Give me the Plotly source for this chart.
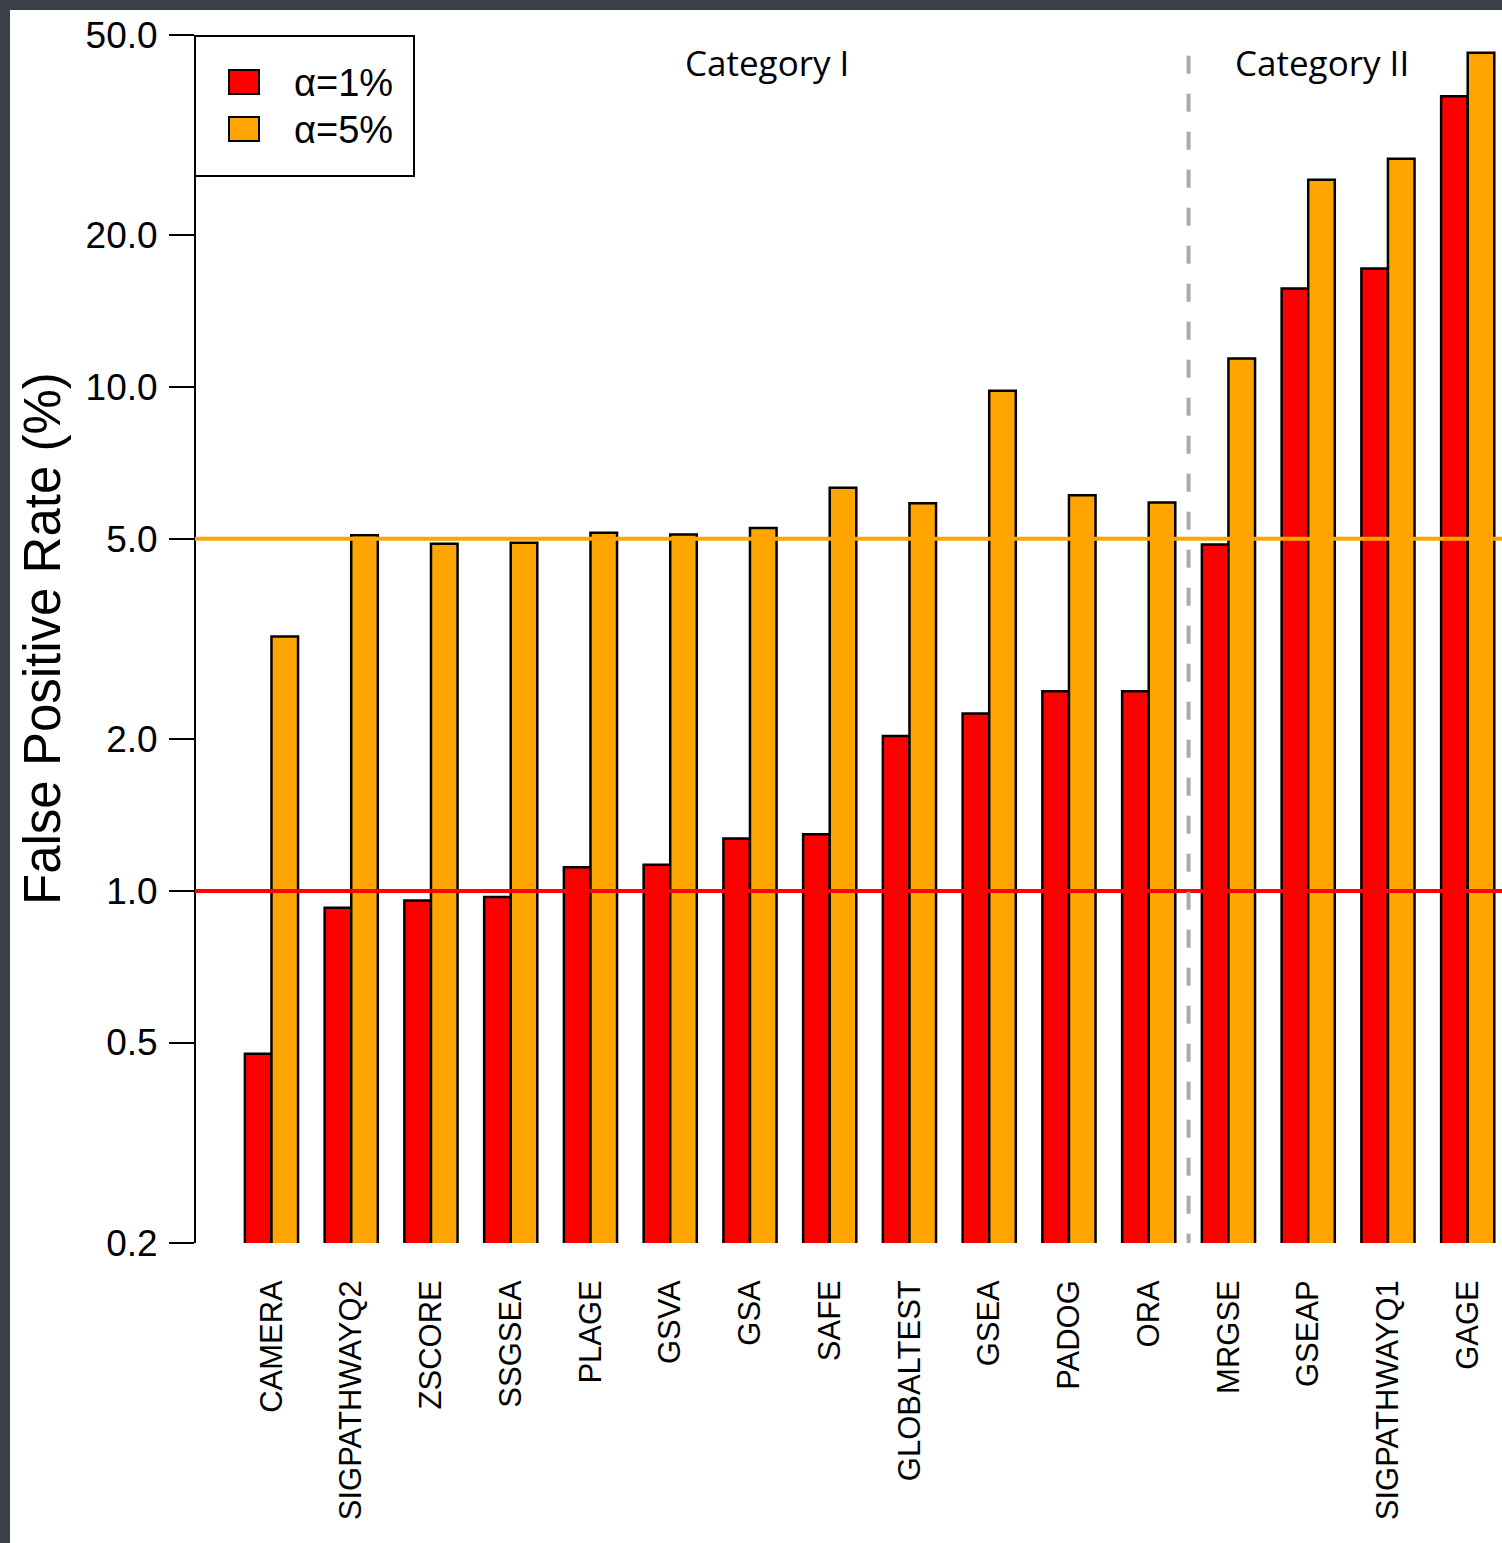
import math
import plotly.graph_objects as go

# Gene-set methods, ordered by false positive rate
methods = ["CAMERA", "SIGPATHWAYQ2", "ZSCORE", "SSGSEA", "PLAGE", "GSVA", "GSA",
           "SAFE", "GLOBALTEST", "GSEA", "PADOG", "ORA", "MRGSE", "GSEAP",
           "SIGPATHWAYQ1", "GAGE"]

# False positive rate (%) at the two significance levels
fpr_alpha1 = [0.475, 0.926, 0.957, 0.972, 1.114, 1.127, 1.27, 1.296,
              2.03, 2.25, 2.49, 2.49, 4.87, 15.7, 17.2, 37.8]
fpr_alpha5 = [3.20, 5.08, 4.89, 4.91, 5.14, 5.10, 5.25, 6.31,
              5.88, 9.83, 6.10, 5.90, 11.4, 25.8, 28.4, 46.1]

series_names = ["α=1%", "α=5%"]
nominal_levels = [1.0, 5.0]

y_ticks = [0.2, 0.5, 1, 2, 5, 10, 20, 50]
y_tick_text = ["0.2", "0.5", "1.0", "2.0", "5.0", "10.0", "20.0", "50.0"]

category_labels = ["Category I", "Category II"]
n_category1 = 12  # first twelve methods belong to Category I

RED = "#FF0000"
ORANGE = "#FFA500"
SANS = "Liberation Sans, Arial, Helvetica, sans-serif"
HUMANIST = "Open Sans, Lato, sans-serif"

W, H = 1502, 1543
L, T, R, B = 195, 35, 0, 300
PW, PH = W - L - R, H - T - B


def px(xpix):
    return (xpix - L) / PW


def py(ypix):
    return (H - B - ypix) / PH


fig = go.Figure()
for name, vals, col in zip(series_names, [fpr_alpha1, fpr_alpha5], [RED, ORANGE]):
    fig.add_trace(go.Bar(
        x=methods, y=vals, name=name,
        marker=dict(color=col, line=dict(color="black", width=2.5)),
        showlegend=False,
    ))

shapes = []
# white figure panel on the dark backdrop
shapes.append(dict(type="rect", xref="paper", yref="paper",
                   x0=px(10), x1=px(W + 5), y0=py(H + 5), y1=py(10),
                   fillcolor="white", line=dict(width=0), layer="below"))
# y axis line spanning the tick range only
shapes.append(dict(type="line", xref="paper", yref="y", x0=0, x1=0,
                   y0=y_ticks[0], y1=y_ticks[-1],
                   line=dict(color="black", width=2), layer="above"))
# nominal level reference lines
for lvl, col in zip(nominal_levels, [RED, ORANGE]):
    shapes.append(dict(type="line", xref="paper", yref="y", x0=0, x1=1,
                       y0=lvl, y1=lvl, line=dict(color=col, width=4),
                       layer="above"))
# separator between the two categories
shapes.append(dict(type="line", xref="x", yref="y",
                   x0=n_category1 - 0.5, x1=n_category1 - 0.5,
                   y0=45.5, y1=y_ticks[0],
                   line=dict(color="#AAAAAA", width=4, dash="18px,20px"),
                   layer="above"))
# legend frame and swatches
shapes.append(dict(type="rect", xref="paper", yref="paper",
                   x0=px(195), x1=px(414), y0=py(176), y1=py(36),
                   fillcolor="white", line=dict(color="black", width=2),
                   layer="above"))
for (top, bot), col in zip([(70, 94), (117, 141)], [RED, ORANGE]):
    shapes.append(dict(type="rect", xref="paper", yref="paper",
                       x0=px(229), x1=px(259), y0=py(bot), y1=py(top),
                       fillcolor=col, line=dict(color="black", width=2),
                       layer="above"))

annotations = []
for name, yc in zip(series_names, [83, 130]):
    annotations.append(dict(text=name, xref="paper", yref="paper",
                            x=px(292), y=py(yc), xanchor="left", yanchor="middle",
                            showarrow=False,
                            font=dict(family=SANS, size=38, color="black")))
for lab, xc in zip(category_labels, [767, 1322]):
    annotations.append(dict(text=lab, xref="paper", yref="paper",
                            x=px(xc), y=py(62), xanchor="center", yanchor="middle",
                            showarrow=False,
                            font=dict(family=HUMANIST, size=35, color="black")))
annotations.append(dict(text="False Positive Rate (%)", xref="paper", yref="paper",
                        x=px(42), y=0.5, xanchor="center", yanchor="middle",
                        textangle=-90, showarrow=False,
                        font=dict(family=SANS, size=51, color="black")))

fig.update_layout(
    width=W, height=H,
    margin=dict(l=L, r=R, t=T, b=B, autoexpand=False),
    paper_bgcolor="#3c3f47",
    plot_bgcolor="rgba(0,0,0,0)",
    barmode="group", bargap=1 / 3, bargroupgap=0,
    shapes=shapes, annotations=annotations,
    xaxis=dict(type="category", range=[-0.959, 15.43],
               showgrid=False, zeroline=False, showline=False, ticks="",
               tickangle=-90, ticklabelstandoff=30,
               tickfont=dict(family=SANS, size=31, color="black")),
    yaxis=dict(type="log", range=[math.log10(0.2), math.log10(50)],
               tickvals=y_ticks, ticktext=y_tick_text,
               ticks="outside", ticklen=25, tickwidth=2, tickcolor="black",
               ticklabelstandoff=4,
               showgrid=False, zeroline=False, showline=False,
               tickfont=dict(family=SANS, size=37, color="black")),
)

fig.write_html("out.html")
